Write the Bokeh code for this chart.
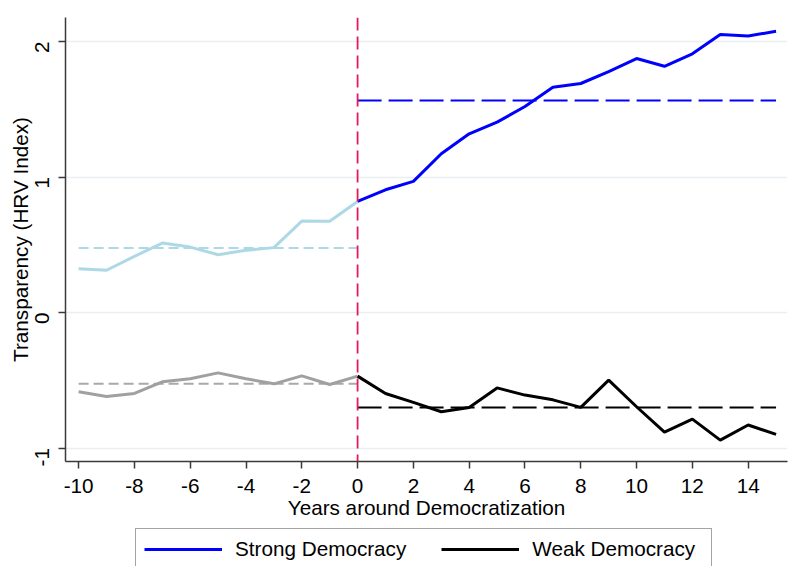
import math

from bokeh.embed import file_html
from bokeh.layouts import column
from bokeh.models import FixedTicker, Legend, LegendItem, Range1d, Span
from bokeh.plotting import figure
from bokeh.resources import INLINE

# Years relative to democratization
years_pre = [-10, -9, -8, -7, -6, -5, -4, -3, -2, -1, 0]
years_post = [0, 1, 2, 3, 4, 5, 6, 7, 8, 9, 10, 11, 12, 13, 14, 15]

# Transparency (HRV index), strong democracies
strong_pre = [0.324, 0.312, 0.415, 0.513, 0.483, 0.427, 0.459, 0.479, 0.675, 0.673, 0.820]
strong_post = [0.820, 0.906, 0.968, 1.172, 1.319, 1.405, 1.520, 1.663, 1.690, 1.778,
               1.874, 1.817, 1.909, 2.051, 2.041, 2.075]

# Transparency (HRV index), weak democracies
weak_pre = [-0.585, -0.619, -0.597, -0.511, -0.489, -0.445, -0.488, -0.526, -0.467, -0.531, -0.469]
weak_post = [-0.469, -0.597, -0.663, -0.732, -0.700, -0.556, -0.609, -0.644, -0.700, -0.499,
             -0.695, -0.882, -0.786, -0.941, -0.830, -0.899]

# Period averages (before / after democratization)
strong_mean_pre = 0.476
strong_mean_post = 1.564
weak_mean_pre = -0.526
weak_mean_post = -0.700

x_ticks = [-10, -8, -6, -4, -2, 0, 2, 4, 6, 8, 10, 12, 14]
y_ticks = [-1, 0, 1, 2]

series_labels = ["Strong Democracy", "Weak Democracy"]

FONT = "Liberation Sans"
FONT_SIZE = "20.7px"
BLUE = "#0000FF"
LIGHT_BLUE = "#ADD8E6"
GREY = "#A0A0A0"
BLACK = "black"

p = figure(
    width=795,
    height=525,
    output_backend="svg",
    toolbar_location=None,
    x_range=Range1d(-10.47, 15.41),
    y_range=Range1d(-1.099, 2.177),
    min_border_left=65,
    min_border_right=8,
    min_border_top=17,
    min_border_bottom=64,
)
p.outline_line_color = None
p.background_fill_color = "white"
p.border_fill_color = "white"

# grid
p.xgrid.visible = False
p.ygrid.grid_line_color = "#E8EEF1"
p.ygrid.grid_line_width = 1.5
p.ygrid.ticker = FixedTicker(ticks=y_ticks)

# axes (plain hyphen for negative numbers)
p.xaxis.ticker = FixedTicker(ticks=x_ticks)
p.yaxis.ticker = FixedTicker(ticks=y_ticks)
p.xaxis.major_label_overrides = {t: str(t) for t in x_ticks}
p.yaxis.major_label_overrides = {t: str(t) for t in y_ticks}
p.xaxis.axis_label = "Years around Democratization"
p.yaxis.axis_label = "Transparency (HRV Index)"
p.yaxis.major_label_orientation = math.pi / 2
for ax in (p.xaxis, p.yaxis):
    ax.axis_line_color = "#3a3a3a"
    ax.axis_line_width = 1.5
    ax.major_tick_line_color = "#3a3a3a"
    ax.major_tick_line_width = 1.5
    ax.major_tick_in = 0
    ax.major_tick_out = 7
    ax.minor_tick_line_color = None
    ax.major_label_text_font = FONT
    ax.major_label_text_font_size = FONT_SIZE
    ax.major_label_text_color = "black"
    ax.axis_label_text_font = FONT
    ax.axis_label_text_font_size = FONT_SIZE
    ax.axis_label_text_font_style = "normal"
    ax.axis_label_text_color = "black"
p.xaxis.major_label_standoff = 10
p.xaxis.axis_label_standoff = 0
p.yaxis.major_label_standoff = 16
p.yaxis.axis_label_standoff = -6

# democratization year marker
p.add_layout(Span(location=0, dimension="height", line_color="#E8195A",
                  line_width=1.8, line_dash="13 6"))

# period averages
p.line([years_pre[0], years_pre[-1]], [strong_mean_pre] * 2, line_color=LIGHT_BLUE,
       line_width=2, line_dash="10 5")
p.line([years_pre[0], years_pre[-1]], [weak_mean_pre] * 2, line_color="#A9A9A9",
       line_width=2, line_dash="10 5")
p.line([years_post[0], years_post[-1]], [strong_mean_post] * 2, line_color=BLUE,
       line_width=2, line_dash="24 7")
p.line([years_post[0], years_post[-1]], [weak_mean_post] * 2, line_color=BLACK,
       line_width=2, line_dash="24 7")

# series
p.line(years_pre, strong_pre, line_color=LIGHT_BLUE, line_width=3)
p.line(years_pre, weak_pre, line_color=GREY, line_width=3)
p.line(years_post, strong_post, line_color=BLUE, line_width=3)
p.line(years_post, weak_post, line_color=BLACK, line_width=3)

# legend strip underneath the chart; its swatch lines reuse the series,
# and the strip's y-range keeps those lines themselves out of view
key = figure(
    width=795,
    height=41,
    output_backend="svg",
    toolbar_location=None,
    x_range=Range1d(0, 1),
    y_range=Range1d(10, 11),
    min_border=0,
)
key.axis.visible = False
key.grid.visible = False
key.outline_line_color = None
key.background_fill_color = "white"
key.border_fill_color = "white"
k_strong = key.line(years_post, strong_post, line_color=BLUE, line_width=3)
k_weak = key.line(years_post, weak_post, line_color=BLACK, line_width=3)

legend = Legend(
    items=[
        LegendItem(label=series_labels[0], renderers=[k_strong]),
        LegendItem(label=series_labels[1], renderers=[k_weak]),
    ],
    orientation="horizontal",
    location=(70, -4),
    label_text_font=FONT,
    label_text_font_size=FONT_SIZE,
    label_text_color="black",
    label_width=171,
    glyph_width=78,
    glyph_height=20,
    label_standoff=13,
    spacing=35,
    padding=8,
    margin=0,
    border_line_color="#4a4a4a",
    border_line_width=1.5,
    background_fill_color="white",
)
key.add_layout(legend, "center")

open("out.html", "w").write(file_html(column(p, key, spacing=0), INLINE))
